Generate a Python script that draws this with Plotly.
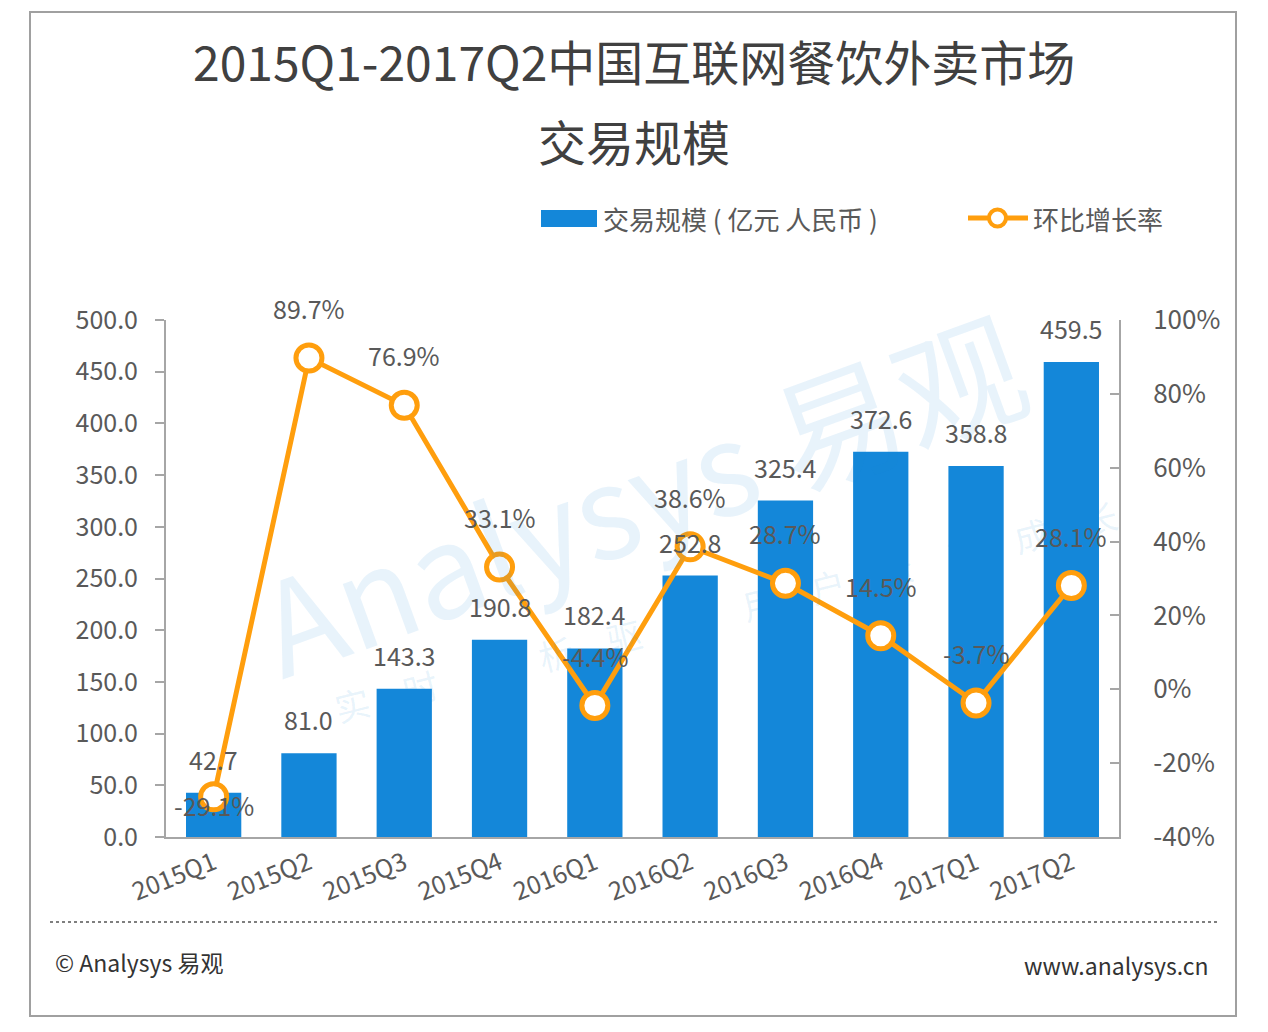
import plotly.graph_objects as go

quarters = ["2015Q1", "2015Q2", "2015Q3", "2015Q4", "2016Q1", "2016Q2",
            "2016Q3", "2016Q4", "2017Q1", "2017Q2"]
volume = [42.7, 81.0, 143.3, 190.8, 182.4, 252.8, 325.4, 372.6, 358.8, 459.5]
growth = [-29.1, 89.7, 76.9, 33.1, -4.4, 38.6, 28.7, 14.5, -3.7, 28.1]
left_ticks = [0, 50, 100, 150, 200, 250, 300, 350, 400, 450, 500]
right_ticks = [-40, -20, 0, 20, 40, 60, 80, 100]

title_line1 = "2015Q1-2017Q2中国互联网餐饮外卖市场"
title_line2 = "交易规模"
legend_bar = "交易规模 ( 亿元 人民币 )"
legend_line = "环比增长率"
footer_left = "© Analysys 易观"
footer_right = "www.analysys.cn"
watermark_main = "Analysys 易观"
watermark_sub = "　".join("实时分析驱动用户资产成长")

W, H = 1268, 1032
OFF = 8  # default page body margin
L, R, T, B = 166, 1119, 320, 837
FONT = "Noto Sans CJK SC, Noto Sans, sans-serif"
GREY = "#595959"
AXIS = "#a6a6a6"
BLUE = "#1487d9"
ORANGE = "#FF9E0D"
WM = "rgba(30,140,220,0.10)"


def px(x):
    return (x - L) / (R - L)


def py(y):
    return (B - y) / (B - T)


fig = go.Figure()
fig.add_trace(go.Bar(x=quarters, y=volume, marker=dict(color=BLUE, line=dict(width=0)),
                     width=0.58, hoverinfo="skip", showlegend=False))
fig.add_trace(go.Scatter(x=quarters, y=growth, yaxis="y2", mode="lines+markers",
                         line=dict(color=ORANGE, width=5),
                         marker=dict(size=26, color="white", line=dict(color=ORANGE, width=5)),
                         hoverinfo="skip", showlegend=False))

ann = []
# watermark
ann.append(dict(x=px(640), y=py(490), xref="paper", yref="paper", text=watermark_main,
                showarrow=False, textangle=-20, xanchor="center", yanchor="middle",
                font=dict(size=128, color=WM, family=FONT)))
ann.append(dict(x=px(725), y=py(610), xref="paper", yref="paper", text=watermark_sub,
                showarrow=False, textangle=-14, xanchor="center", yanchor="middle",
                font=dict(size=35, color=WM, family=FONT)))

for q, v in zip(quarters, volume):
    ann.append(dict(x=q, y=v, xref="x", yref="y", text=f"{v:.1f}", showarrow=False,
                    yshift=34, font=dict(size=25, color=GREY, family=FONT)))
for q, g in zip(quarters, growth):
    shift = -8 if g < -20 else 50
    ann.append(dict(x=q, y=g, xref="x", yref="y2", text=f"{g:.1f}%", showarrow=False,
                    yshift=shift, font=dict(size=25, color=GREY, family=FONT)))

# titles
ann.append(dict(x=px(634), y=py(60), xref="paper", yref="paper", text=title_line1,
                showarrow=False, xanchor="center", yanchor="middle",
                font=dict(size=48, color="#404040", family=FONT)))
ann.append(dict(x=px(634), y=py(140), xref="paper", yref="paper", text=title_line2,
                showarrow=False, xanchor="center", yanchor="middle",
                font=dict(size=48, color="#404040", family=FONT)))
# legend texts
ann.append(dict(x=px(601), y=py(218), xref="paper", yref="paper", text=legend_bar,
                showarrow=False, xanchor="left", yanchor="middle",
                font=dict(size=26, color=GREY, family=FONT)))
ann.append(dict(x=px(1031), y=py(218), xref="paper", yref="paper", text=legend_line,
                showarrow=False, xanchor="left", yanchor="middle",
                font=dict(size=26, color=GREY, family=FONT)))
# footer
ann.append(dict(x=px(53), y=py(962), xref="paper", yref="paper", text=footer_left,
                showarrow=False, xanchor="left", yanchor="middle",
                font=dict(size=23, color="#333333", family=FONT)))
ann.append(dict(x=px(1211), y=py(965), xref="paper", yref="paper", text=footer_right,
                showarrow=False, xanchor="right", yanchor="middle",
                font=dict(size=23, color="#333333", family=FONT)))

shapes = [
    dict(type="rect", xref="paper", yref="paper", x0=px(30), x1=px(1236), y0=py(12), y1=py(1016),
         line=dict(color="#a0a0a0", width=2), layer="below"),
    dict(type="line", xref="paper", yref="paper", x0=px(50), x1=px(1218), y0=py(922), y1=py(922),
         line=dict(color="#7f7f7f", width=2, dash="dot")),
    dict(type="rect", xref="paper", yref="paper", x0=px(541), x1=px(597), y0=py(210), y1=py(227),
         fillcolor=BLUE, line=dict(width=0)),
    dict(type="line", xref="paper", yref="paper", x0=px(968), x1=px(1028), y0=py(218), y1=py(218),
         line=dict(color=ORANGE, width=5)),
    dict(type="circle", xref="paper", yref="paper", x0=px(989), x1=px(1006), y0=py(209.5), y1=py(226.5),
         fillcolor="white", line=dict(color=ORANGE, width=4)),
]

fig.update_layout(
    width=W - OFF, height=H - OFF,
    margin=dict(l=L - OFF, r=W - R, t=T - OFF, b=H - B, pad=0),
    paper_bgcolor="white", plot_bgcolor="white",
    font=dict(family=FONT, color=GREY),
    bargap=0.42,
    showlegend=False,
    xaxis=dict(type="category", range=[-0.5, len(quarters) - 0.5], showline=True,
               linecolor=AXIS, linewidth=2, ticks="",
               tickangle=-22, tickfont=dict(size=25, color=GREY), showgrid=False,
               zeroline=False),
    yaxis=dict(range=[0, 500], tickvals=left_ticks, ticktext=[f"{t:.1f}" for t in left_ticks],
               showline=True, linecolor=AXIS,
               linewidth=2, ticks="outside", ticklen=9, tickcolor=AXIS, tickwidth=2,
               ticklabelstandoff=12, tickfont=dict(size=25, color=GREY), showgrid=False,
               zeroline=False),
    yaxis2=dict(range=[-40, 100], tickvals=right_ticks, ticktext=[f"{t}%" for t in right_ticks],
                overlaying="y", side="right",
                showline=True, linecolor=AXIS, linewidth=2, ticks="inside", ticklen=9,
                tickcolor=AXIS, tickwidth=2, ticklabelstandoff=27,
                tickfont=dict(size=26, color=GREY), showgrid=False, zeroline=False),
    annotations=ann,
    shapes=shapes,
)

fig.write_html("out.html")
